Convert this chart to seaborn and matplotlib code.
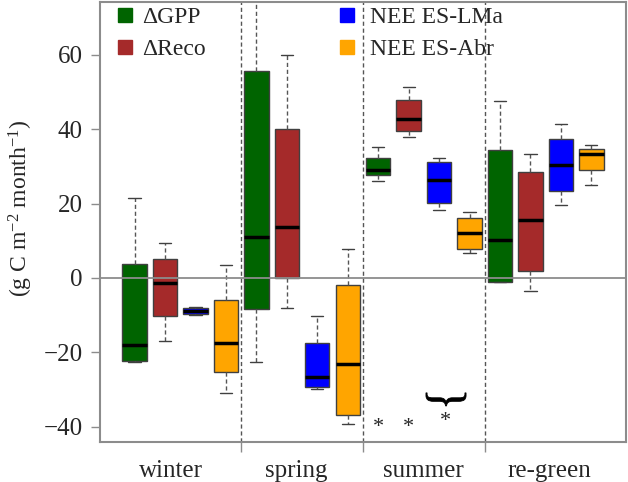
import pandas as pd
import seaborn as sns
import matplotlib.pyplot as plt
from matplotlib.lines import Line2D
from matplotlib.textpath import TextPath
from matplotlib.patches import PathPatch
from matplotlib.font_manager import FontProperties
from matplotlib.transforms import Affine2D

# five-number summaries (min, q1, median, q3, max)
seasons = ["winter", "spring", "summer", "re-green"]
series = ["ΔGPP", "ΔReco", "NEE ES-LMa", "NEE ES-Abr"]
colors = ["#006400", "#A52A2A", "#0000FF", "#FFA500"]

gpp = [[-22.6, -22.4, -17.9, 3.8, 21.4],
       [-22.7, -8.3, 10.9, 55.7, 80.0],
       [26.1, 27.6, 28.9, 32.2, 35.3],
       [-1.2, -1.0, 10.1, 34.4, 47.6]]
reco = [[-17.0, -10.3, -1.4, 5.0, 9.3],
        [-8.2, -0.1, 13.8, 40.0, 59.9],
        [37.8, 39.4, 42.8, 47.9, 51.3],
        [-3.5, 1.9, 15.5, 28.5, 33.2]]
nee_lma = [[-10.0, -9.8, -9.0, -8.1, -7.8],
           [-29.8, -29.2, -26.6, -17.5, -10.2],
           [18.3, 20.2, 26.3, 31.3, 32.3],
           [19.5, 23.5, 30.4, 37.3, 41.3]]
nee_abr = [[-30.9, -25.4, -17.6, -5.8, 3.4],
           [-39.3, -36.8, -23.1, -2.0, 7.9],
           [6.6, 7.9, 12.0, 16.1, 17.6],
           [25.0, 29.0, 33.2, 34.6, 35.8]]

rows = []
for name, vals in zip(series, [gpp, reco, nee_lma, nee_abr]):
    for season, five in zip(seasons, vals):
        for v in five:
            rows.append({"season": season, "series": name, "value": v})
df = pd.DataFrame(rows)

sns.set_style("ticks")
plt.rcParams["font.family"] = ["Liberation Serif", "DejaVu Serif"]
plt.rcParams["mathtext.fontset"] = "custom"
plt.rcParams["mathtext.rm"] = "Liberation Serif"
plt.rcParams["mathtext.it"] = "Liberation Serif:italic"

grey = "#8c8c8c"
fig = plt.figure(figsize=(6.28, 4.82), dpi=100)
ax = fig.add_axes([0.159, 0.083, 0.838, 0.913])

sns.boxplot(
    data=df, x="season", y="value", hue="series",
    order=seasons, hue_order=series, palette=colors,
    width=1.0, gap=0.2, whis=(0, 100), saturation=1,
    linecolor="#404040", linewidth=1,
    medianprops=dict(color="black", linewidth=2.5),
    whiskerprops=dict(linestyle=(0, (3, 2)), color="#555555"),
    legend=False, ax=ax,
)

ax.axhline(0, color=grey, lw=1.3, zorder=3)
for xd in [0.5, 1.5, 2.5]:
    ax.axvline(xd, color="#555555", lw=1, linestyle=(0, (3, 2)), zorder=0)

ax.set_xlim(-0.66, 3.66)
ax.set_ylim(-44.1, 74.2)
ax.set_yticks([-40, -20, 0, 20, 40, 60])
ax.set_xticks([0.5, 1.5, 2.5])
ax.set_xticklabels([])
# season names sit a little off the group centres in the original
ax.set_xticks([-0.078, 0.953, 1.992, 3.03], minor=True)
ax.set_xticklabels(seasons, minor=True)
ax.tick_params(axis="x", which="major", length=7, width=1, color=grey)
ax.tick_params(axis="x", which="minor", length=0, pad=13, labelsize=18)
ax.tick_params(axis="y", length=6.5, width=1, color=grey, pad=6, labelsize=18)
ax.set_xlabel("")
ax.set_ylabel(r"(g C m$^{-2}$ month$^{-1}$)", fontsize=17)
ax.yaxis.set_label_coords(-0.124, 0.53)
for sp in ax.spines.values():
    sp.set_color(grey)
    sp.set_linewidth(1.5)

# significance marks
ax.text(1.625, -40.3, "*", ha="center", va="center", fontsize=16)
ax.text(1.875, -40.3, "*", ha="center", va="center", fontsize=16)
ax.text(2.18, -38.7, "*", ha="center", va="center", fontsize=16)

tp = TextPath((0, 0), "}", size=10, prop=FontProperties(family="Liberation Serif"))
rp = Affine2D().rotate_deg(-90).transform_path(tp)
ext = rp.get_extents()
x0, x1, y0, y1 = 2.017, 2.346, -34.4, -30.9
brace = (Affine2D().translate(-ext.x0, -ext.y0)
         .scale((x1 - x0) / ext.width, (y1 - y0) / ext.height)
         .translate(x0, y0)).transform_path(rp)
ax.add_patch(PathPatch(brace, facecolor="black", edgecolor="black", lw=0.6, zorder=4))

# two legend columns
handles = [Line2D([], [], marker="s", ls="", color=c, markersize=9.5) for c in colors]
leg1 = ax.legend(handles[:2], series[:2], loc="upper left",
                 bbox_to_anchor=(0.002, 1.016), frameon=False, fontsize=17,
                 borderpad=0, handlelength=1.0, handletextpad=0.23, labelspacing=0.45)
ax.add_artist(leg1)
ax.legend(handles[2:], series[2:], loc="upper left",
          bbox_to_anchor=(0.424, 1.016), frameon=False, fontsize=17,
          borderpad=0, handlelength=1.0, handletextpad=0.49, labelspacing=0.45)

fig.savefig("out.png", dpi=100)
